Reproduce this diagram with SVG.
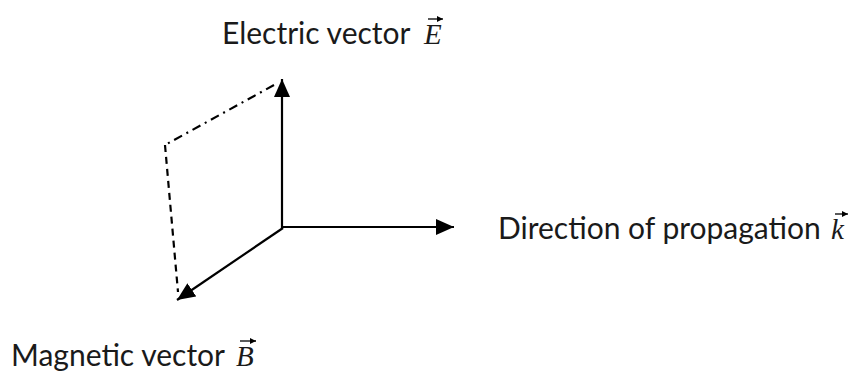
<svg xmlns="http://www.w3.org/2000/svg" width="855" height="372" viewBox="0 0 855 372">
  <defs>
    <marker id="ah" markerUnits="userSpaceOnUse" markerWidth="20" markerHeight="18" refX="18" refY="8" orient="auto">
      <path d="M0,0 L18,8 L0,16 Z" fill="#000"/>
    </marker>
    <marker id="sa" markerUnits="userSpaceOnUse" markerWidth="8" markerHeight="8" refX="6" refY="3" orient="auto">
      <path d="M0,0 L6,3 L0,6 Z" fill="#000"/>
    </marker>
  </defs>
  <style>
    .lbl { font-family: "Lato", "Open Sans", "Liberation Sans", sans-serif; font-size: 30px; fill: #1a1a1a; }
    .sym { font-family: "Liberation Serif", "DejaVu Serif", serif; font-style: italic; font-size: 29px; fill: #1a1a1a; }
    .ax { stroke: #000; stroke-width: 2.2; fill: none; }
    .dd { stroke: #000; stroke-width: 2.2; fill: none; stroke-dasharray: 9 5 2 5; }
    .ds { stroke: #000; stroke-width: 2.2; fill: none; stroke-dasharray: 7 5; }
    .va { stroke: #000; stroke-width: 1.3; fill: none; }
  </style>
  <g id="connectors">
    <line class="ax" x1="282" y1="228" x2="282" y2="79" marker-end="url(#ah)"/>
    <line class="ax" x1="281" y1="227" x2="454" y2="227" marker-end="url(#ah)"/>
    <line class="ax" x1="283" y1="228" x2="177" y2="300" marker-end="url(#ah)"/>
    <polyline class="dd" points="274,85 165,145"/>
    <polyline class="ds" points="165,145 178,292"/>
  </g>
  <g id="electric">
    <text class="lbl" x="222" y="44">Electric vector</text>
    <text class="sym" x="424" y="44">E</text>
    <line class="va" x1="428" y1="19" x2="443" y2="19" marker-end="url(#sa)"/>
  </g>
  <g id="propagation">
    <text class="lbl" x="498" y="239">Direction of propagation</text>
    <text class="sym" x="831" y="239">k</text>
    <line class="va" x1="835" y1="214" x2="848" y2="214" marker-end="url(#sa)"/>
  </g>
  <g id="magnetic">
    <text class="lbl" x="11" y="366">Magnetic vector</text>
    <text class="sym" x="236" y="366">B</text>
    <line class="va" x1="240" y1="341" x2="256" y2="341" marker-end="url(#sa)"/>
  </g>
</svg>
